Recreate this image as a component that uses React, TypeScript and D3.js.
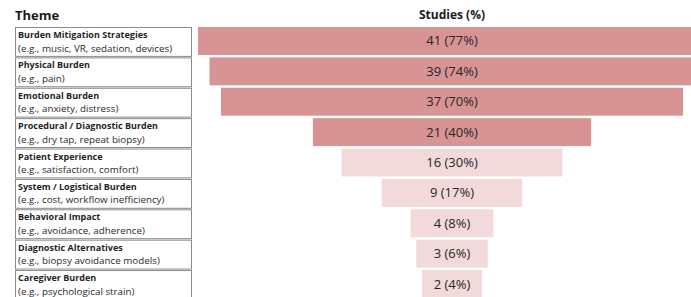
import { useEffect, useRef } from "react";
import * as d3 from "d3";

const themes = [
  "Burden Mitigation Strategies",
  "Physical Burden",
  "Emotional Burden",
  "Procedural / Diagnostic Burden",
  "Patient Experience",
  "System / Logistical Burden",
  "Behavioral Impact",
  "Diagnostic Alternatives",
  "Caregiver Burden",
];
const examples = [
  "(e.g., music, VR, sedation, devices)",
  "(e.g., pain)",
  "(e.g., anxiety, distress)",
  "(e.g., dry tap, repeat biopsy)",
  "(e.g., satisfaction, comfort)",
  "(e.g., cost, workflow inefficiency)",
  "(e.g., avoidance, adherence)",
  "(e.g., biopsy avoidance models)",
  "(e.g., psychological strain)",
];
const studies = [41, 39, 37, 21, 16, 9, 4, 3, 2];
const percents = [77, 74, 70, 40, 30, 17, 8, 6, 4];

export default function App() {
  const svgRef = useRef<SVGSVGElement | null>(null);

  useEffect(() => {
    if (!svgRef.current) return;
    const width = 691;
    const height = 297;
    const font = "'Open Sans', 'DejaVu Sans', sans-serif";

    const svg = d3.select(svgRef.current);
    svg.selectAll("*").remove();
    svg.attr("width", width).attr("height", height).style("font-family", font);

    const y = d3.scaleBand<string>().domain(themes).range([27, 298]).paddingInner(0.08).paddingOuter(0);
    const w = d3.scaleLinear().domain([0, 41]).range([37, 508]);
    const cx = 452;

    // headers
    svg.append("text")
      .attr("x", 15).attr("y", 20)
      .attr("font-size", 13).attr("font-weight", 700).attr("fill", "#1a1a1a")
      .text("Theme");
    svg.append("text")
      .attr("x", cx).attr("y", 19)
      .attr("text-anchor", "middle")
      .attr("font-size", 12).attr("font-weight", 700).attr("fill", "#1a1a1a")
      .text("Studies (%)");

    // theme table
    const rows = svg.append("g").selectAll("g").data(themes).join("g")
      .attr("transform", d => `translate(0,${y(d)})`);
    rows.append("rect")
      .attr("x", 15.5).attr("y", 0.5)
      .attr("width", 176).attr("height", y.step() - 1.5)
      .attr("fill", "#fff").attr("stroke", "#8a8a8a").attr("stroke-width", 1);
    rows.append("text")
      .attr("x", 18).attr("y", 11)
      .attr("font-size", 9).attr("font-weight", 700).attr("fill", "#1f1f1f")
      .text(d => d);
    rows.append("text")
      .attr("x", 18).attr("y", 24.5)
      .attr("font-size", 9.8).attr("fill", "#2a2a2a")
      .text((_, i) => examples[i]);

    // funnel bars
    const bars = svg.append("g").selectAll("g").data(studies).join("g")
      .attr("transform", (_, i) => `translate(0,${y(themes[i])})`);
    bars.append("rect")
      .attr("x", d => cx - w(d) / 2)
      .attr("width", d => w(d))
      .attr("height", y.bandwidth())
      .attr("fill", (_, i) => (i < 4 ? "#d89494" : "#f2dadb"));
    bars.append("text")
      .attr("x", cx).attr("y", y.bandwidth() / 2 + 4.5)
      .attr("text-anchor", "middle")
      .attr("font-size", 13).attr("fill", "#262626")
      .text((d, i) => `${d} (${percents[i]}%)`);
  }, []);

  return <svg ref={svgRef} style={{ position: "absolute", left: 0, top: 0 }} />;
}
